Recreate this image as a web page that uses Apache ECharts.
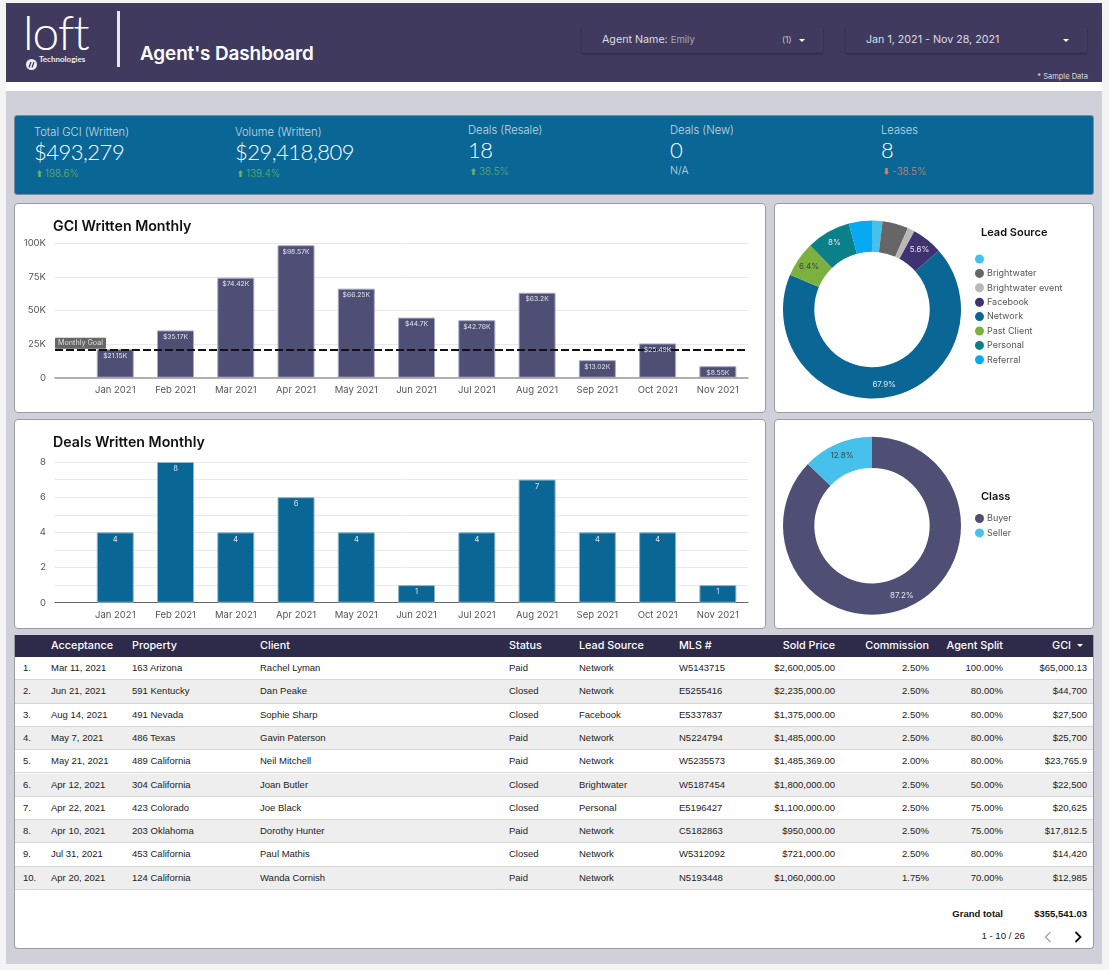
<!DOCTYPE html>
<html>
<head>
<meta charset="utf-8">
<title>Agent's Dashboard</title>
<script src="https://cdn.jsdelivr.net/npm/echarts@6/dist/echarts.min.js"></script>
<style>
html, body { margin: 0; padding: 0; width: 1109px; height: 970px; overflow: hidden; background: #f4f4f4; font-family: Inter, Lato, sans-serif; }
div { position: absolute; box-sizing: border-box; white-space: nowrap; }
#frame { left: 6px; top: 91px; width: 1096px; height: 873px; background: #d0d0db; }
#white { left: 6px; top: 82px; width: 1096px; height: 9px; background: #fff; }
#header { left: 6px; top: 3px; width: 1096px; height: 79px; background: #403b5e; }
#logo { left: 23px; top: 2px; color: #fff; font: 300 48px/60px Lato, sans-serif; letter-spacing: -1px; }
#logosub { left: 39px; top: 53px; color: #eee; font: 700 8px/12px Lato, sans-serif; }
#logodot { left: 26px; top: 54px; width: 11px; height: 11px; }
#divider { left: 117px; top: 11px; width: 2.5px; height: 56px; background: #e8e8ee; }
#pagetitle { left: 140px; top: 41px; color: #fff; font: 600 18.9px/26px Inter, sans-serif; letter-spacing: -.1px; }
.filter { top: 27px; height: 26px; background: #403b5e; box-shadow: 0 1px 2px rgba(0,0,0,.4); color: #dcdce4; font-size: 10.7px; line-height: 26px; }
.filter span { position: absolute; }
.caret { position: absolute; top: 11.5px; width: 0; height: 0; border-left: 3px solid transparent; border-right: 3px solid transparent; border-top: 3px solid #fff; }
#sample { right: 21px; top: 72px; color: #ddd; font-size: 7.5px; line-height: 10px; }
#kpi { left: 14px; top: 115px; width: 1080px; height: 80px; background: #0a6694; border: 1px solid #7c8a98; border-radius: 3px; }
.kl { color: #c6d9e4; font-size: 11.2px; line-height: 14px; font-weight: 300; }
.kv { color: #fff; font: 300 22px/28px Lato, sans-serif; letter-spacing: -.5px; }
.kd { font-size: 10px; line-height: 14px; font-weight: 300; }
.card { background: #fff; border: 1px solid #9c9ca2; border-radius: 4px; }
#tablecard { left: 14px; top: 635px; width: 1080px; height: 314px; background: #fff; border: 1px solid #9c9ca2; border-top: 0; border-radius: 0 0 4px 4px; }
.hd { left: 0; top: 0; width: 1078px; height: 22px; background: #2e2a4a; }
.hc { top: 0; color: #fff; font-size: 10.8px; font-weight: 500; line-height: 22px; }
.row { left: 0; width: 1078px; height: 23.3px; border-bottom: 1px solid #d6d6d6; }
.cell { top: 0; color: #222; font: 9.5px/22.6px "Liberation Sans", Arial, sans-serif; }
.ft { color: #111; font: bold 9.5px/12px "Liberation Sans", Arial, sans-serif; }
</style>
</head>
<body>
<div id="frame"></div>
<div id="white"></div>
<div id="header"></div>
<div id="logo">loft</div>
<div id="logodot"><svg width="11" height="11" viewBox="0 0 11 11"><circle cx="5.5" cy="5.5" r="5.5" fill="#eee"/><path d="M3 8.5 5 3M6 8.5 8 3" stroke="#403b5e" stroke-width="1.3"/></svg></div>
<div id="logosub">Technologies</div>
<div id="divider"></div>
<div id="pagetitle">Agent's Dashboard</div>
<div class="filter" style="left:582px;width:241px"><span style="left:20px">Agent Name: <span style="position:static;color:#a9a7bd;font-size:9.5px">Emily</span></span><span style="left:200px;font-size:8.5px;color:#c8c8d2">(1)</span><i class="caret" style="left:217px"></i></div>
<div class="filter" style="left:846px;width:241px"><span style="left:20px">Jan 1, 2021 - Nov 28, 2021</span><i class="caret" style="left:217px"></i></div>
<div id="sample">* Sample Data</div>
<div id="kpi"></div>
<div class="card" style="left:14px;top:203px;width:752px;height:210px"></div>
<div class="card" style="left:774px;top:203px;width:320px;height:210px"></div>
<div class="card" style="left:14px;top:419px;width:752px;height:210px"></div>
<div class="card" style="left:774px;top:419px;width:320px;height:210px"></div>
<div id="gci-chart" style="left:14px;top:203px;width:752px;height:210px"></div>
<div id="lead-chart" style="left:774px;top:203px;width:320px;height:210px"></div>
<div id="deals-chart" style="left:14px;top:419px;width:752px;height:210px"></div>
<div id="class-chart" style="left:774px;top:419px;width:320px;height:210px"></div>
<div id="tablecard"></div>
<script>
var months = ['Jan 2021', 'Feb 2021', 'Mar 2021', 'Apr 2021', 'May 2021', 'Jun 2021', 'Jul 2021', 'Aug 2021', 'Sep 2021', 'Oct 2021', 'Nov 2021'];
var gciValues = [21150, 35170, 74420, 98570, 66250, 44700, 42760, 63200, 13020, 25490, 8550];
var dealValues = [4, 8, 4, 6, 4, 1, 4, 7, 4, 4, 1];
var monthlyGoal = 20500;

var leadNames = ['\u00a0', 'Brightwater', 'Brightwater event', 'Facebook', 'Network', 'Past Client', 'Personal', 'Referral'];
var leadValues = [1.9, 4.7, 1.3, 5.6, 67.9, 6.4, 8, 4.2];
var leadColors = ['#45c1ec', '#666666', '#b8b8b8', '#3f3271', '#0a6694', '#7cb03f', '#0b8088', '#07a9f5'];
var classNames = ['Buyer', 'Seller'];
var classValues = [87.2, 12.8];
var classColors = ['#4f4e75', '#45c1ec'];

var kpiLabels = ['Total GCI (Written)', 'Volume (Written)', 'Deals (Resale)', 'Deals (New)', 'Leases'];
var kpiValues = ['$493,279', '$29,418,809', '18', '0', '8'];
var kpiDeltas = ['198.6%', '139.4%', '38.5%', 'N/A', '-38.5%'];

var tableHeaders = ['Acceptance', 'Property', 'Client', 'Status', 'Lead Source', 'MLS #', 'Sold Price', 'Commission', 'Agent Split', 'GCI'];
var tableRows = [
    ['Mar 11, 2021', '163 Arizona', 'Rachel Lyman', 'Paid', 'Network', 'W5143715', '$2,600,005.00', '2.50%', '100.00%', '$65,000.13'],
    ['Jun 21, 2021', '591 Kentucky', 'Dan Peake', 'Closed', 'Network', 'E5255416', '$2,235,000.00', '2.50%', '80.00%', '$44,700'],
    ['Aug 14, 2021', '491 Nevada', 'Sophie Sharp', 'Closed', 'Facebook', 'E5337837', '$1,375,000.00', '2.50%', '80.00%', '$27,500'],
    ['May 7, 2021', '486 Texas', 'Gavin Paterson', 'Paid', 'Network', 'N5224794', '$1,485,000.00', '2.50%', '80.00%', '$25,700'],
    ['May 21, 2021', '489 California', 'Neil Mitchell', 'Paid', 'Network', 'W5235573', '$1,485,369.00', '2.00%', '80.00%', '$23,765.9'],
    ['Apr 12, 2021', '304 California', 'Joan Butler', 'Closed', 'Brightwater', 'W5187454', '$1,800,000.00', '2.50%', '50.00%', '$22,500'],
    ['Apr 22, 2021', '423 Colorado', 'Joe Black', 'Closed', 'Personal', 'E5196427', '$1,100,000.00', '2.50%', '75.00%', '$20,625'],
    ['Apr 10, 2021', '203 Oklahoma', 'Dorothy Hunter', 'Paid', 'Network', 'C5182863', '$950,000.00', '2.50%', '75.00%', '$17,812.5'],
    ['Jul 31, 2021', '453 California', 'Paul Mathis', 'Closed', 'Network', 'W5312092', '$721,000.00', '2.50%', '80.00%', '$14,420'],
    ['Apr 20, 2021', '124 California', 'Wanda Cornish', 'Paid', 'Network', 'N5193448', '$1,060,000.00', '1.75%', '70.00%', '$12,985']
];
var grandTotal = '$355,541.03';
var pageText = '1 - 10 / 26';

var uiFont = 'Inter, Lato, sans-serif';

function add(parent, cls, style, html) {
    var d = document.createElement('div');
    d.className = cls;
    d.style.cssText = style;
    d.innerHTML = html;
    parent.appendChild(d);
    return d;
}

// KPI strip
var kpi = document.getElementById('kpi');
var kpiX = [19, 220, 453, 655, 866];
var kpiTop = [9, 9, 7, 7, 7];
kpiLabels.forEach(function (label, i) {
    var top = kpiTop[i];
    add(kpi, 'kl', 'left:' + kpiX[i] + 'px;top:' + top + 'px', label);
    add(kpi, 'kv', 'left:' + kpiX[i] + 'px;top:' + (top + 13) + 'px', kpiValues[i]);
    var delta = kpiDeltas[i];
    if (delta === 'N/A') {
        add(kpi, 'kd', 'left:' + kpiX[i] + 'px;top:' + (top + 41) + 'px;color:#c6d9e4;font-size:10.5px', delta);
    } else {
        var down = delta.charAt(0) === '-';
        var col = down ? '#d4826e' : '#62b06c';
        var arrow = '<svg width="5" height="7" viewBox="0 0 5 7" style="position:absolute;left:0;top:4px"><path fill="' + col + '" d="' +
            (down ? 'M1.2 0h2.6v4H5L2.5 7 0 4h1.2z' : 'M2.5 0 5 3H3.8v4H1.2V3H0z') + '"/></svg>';
        add(kpi, 'kd', 'left:' + (kpiX[i] + 3) + 'px;top:' + (top + 41) + 'px;color:' + col + ';padding-left:8px', arrow + delta);
    }
});

// table
var card = document.getElementById('tablecard');
var tableX = [36, 117, 245, 494, 564, 664];
var tableRight = [258, 164, 90, 6];
var hd = add(card, 'hd', '', '');
tableHeaders.forEach(function (h, i) {
    var pos = i < 6 ? 'left:' + tableX[i] + 'px' : 'right:' + tableRight[i - 6] + 'px';
    if (i == 9) {
        add(hd, 'hc', 'right:22px', h);
        add(hd, '', 'right:10px;top:9px;width:0;height:0;border-left:3px solid transparent;border-right:3px solid transparent;border-top:3.5px solid #fff', '');
    } else {
        add(hd, 'hc', pos, h);
    }
});
tableRows.forEach(function (r, n) {
    var row = add(card, 'row', 'top:' + (22 + n * 23.3) + 'px;background:' + (n % 2 ? '#eeeeee' : '#ffffff'), '');
    add(row, 'cell', 'left:8px', (n + 1) + '.');
    r.forEach(function (c, i) {
        var pos = i < 6 ? 'left:' + tableX[i] + 'px' : 'right:' + tableRight[i - 6] + 'px';
        add(row, 'cell', pos, c);
    });
});
add(card, 'ft', 'right:90px;top:273px', 'Grand total');
add(card, 'ft', 'right:6px;top:273px', grandTotal);
add(card, 'cell', 'right:68px;top:290px;font-size:9.7px;line-height:22px', pageText);
add(card, '', 'left:1028px;top:292px', '<svg width="10" height="12" viewBox="0 0 10 12"><path d="M7.5 1 2.5 6l5 5" fill="none" stroke="#aaa" stroke-width="1.5"/></svg>');
add(card, '', 'left:1058px;top:292px', '<svg width="10" height="12" viewBox="0 0 10 12"><path d="M2.5 1l5 5-5 5" fill="none" stroke="#111" stroke-width="1.8"/></svg>');

// bar charts: x is a value axis so the blank stretch before Jan stays in the grid
// labels sit on a second see-through series so they stay above the goal line
function barOption(title, values, color, border, yAxis, labelFmt, labelSize, top, bottom, axisColor, axisWidth) {
    var points = values.map(function (v, i) { return [i, v]; });
    return {
        animation: false,
        textStyle: { fontFamily: uiFont },
        title: {
            text: title, left: 34, top: 12,
            textStyle: { fontFamily: uiFont, fontSize: 14.2, fontWeight: 600, color: '#111' }
        },
        grid: { left: 41, right: 18, top: top, bottom: bottom },
        xAxis: {
            type: 'value', min: -1, max: 10.5,
            splitLine: { show: false },
            axisTick: { show: false },
            axisLine: { show: true, onZero: true, lineStyle: { color: axisColor, width: axisWidth } },
            axisLabel: {
                customValues: months.map(function (m, i) { return i; }),
                formatter: function (v) { return months[v] || ''; },
                color: '#555', fontSize: 9.5, margin: 7, showMinLabel: true, showMaxLabel: true
            }
        },
        yAxis: yAxis,
        series: [{
            type: 'bar',
            barWidth: 37,
            barGap: '-100%',
            z: 2,
            data: points,
            itemStyle: { color: color, borderColor: border, borderWidth: 1 }
        }, {
            type: 'bar',
            barWidth: 37,
            z: 5,
            data: points,
            itemStyle: { color: 'transparent' },
            label: {
                show: true, position: 'insideTop', distance: 3, color: '#e2e2ec', fontSize: labelSize,
                textBorderWidth: 0, textBorderColor: 'transparent',
                formatter: function (p) { return labelFmt(p.value[1]); }
            }
        }]
    };
}

function yAxisBase(max, interval, fmt) {
    return {
        type: 'value', min: 0, max: max, interval: interval,
        axisLine: { show: false }, axisTick: { show: false },
        splitLine: { lineStyle: { color: '#e9e9e9', width: 1 } },
        axisLabel: { color: '#555', fontSize: 9.5, margin: 9, formatter: fmt }
    };
}

var gciChart = echarts.init(document.getElementById('gci-chart'));
var gciOption = barOption('GCI Written Monthly', gciValues, '#4f4e75', '#aaa9c4',
    yAxisBase(100000, 25000, function (v) { return v ? (v / 1000) + 'K' : '0'; }),
    function (v) { return '$' + (v / 1000) + 'K'; }, 6.8, 40.3, 35.3, '#999', 1.5);
gciOption.series[0].markLine = {
    silent: true,
    symbol: 'none',
    animation: false,
    data: [{ yAxis: monthlyGoal }],
    lineStyle: { color: '#111', type: [8, 3], width: 2 },
    label: {
        show: true, position: 'insideStartTop', formatter: 'Monthly Goal', distance: 0, offset: [0, -1.5],
        color: '#ddd', fontSize: 7.2, backgroundColor: '#666', padding: [2, 3], borderRadius: 1,
        textBorderWidth: 0
    }
};
gciChart.setOption(gciOption);

var dealsChart = echarts.init(document.getElementById('deals-chart'));
dealsChart.setOption(barOption('Deals Written Monthly', dealValues, '#0a6694', '#8fb6cb',
    yAxisBase(8, 1, function (v) { return v % 2 ? '' : v; }),
    function (v) { return v; }, 7.5, 43, 26.3, '#666', 1));

// donut charts
function pieOption(title, names, values, colors, darkLabels, titleTop, legendTop, cy) {
    return {
        animation: false,
        textStyle: { fontFamily: uiFont },
        color: colors,
        title: {
            text: title, left: 202, top: titleTop,
            textStyle: { fontFamily: uiFont, fontSize: 11, fontWeight: 600, color: '#111' }
        },
        legend: {
            orient: 'vertical', left: 196, top: legendTop, icon: 'circle',
            itemWidth: 9, itemHeight: 9, itemGap: 5.4,
            textStyle: { color: '#555', fontSize: 9, padding: [0, 0, 0, -2] },
            data: names
        },
        series: [{
            type: 'pie',
            center: [98, cy],
            radius: [57.7, 89],
            startAngle: 90,
            clockwise: true,
            silent: true,
            data: names.map(function (n, i) {
                return {
                    name: n,
                    value: values[i],
                    label: { color: darkLabels.indexOf(n) >= 0 ? '#444' : '#e2e8ee' }
                };
            }),
            label: {
                show: true, position: 'inside', fontSize: 8,
                textBorderWidth: 0, textBorderColor: 'transparent',
                formatter: function (p) { return p.value >= 5 ? p.value + '%' : ''; }
            },
            labelLine: { show: false }
        }]
    };
}

var leadChart = echarts.init(document.getElementById('lead-chart'));
leadChart.setOption(pieOption('Lead Source', leadNames, leadValues, leadColors, ['Past Client'], 19, 46.5, 106.5));

var classChart = echarts.init(document.getElementById('class-chart'));
classChart.setOption(pieOption('Class', classNames, classValues, classColors, ['Seller'], 67, 90, 106.7));
</script>
</body>
</html>
